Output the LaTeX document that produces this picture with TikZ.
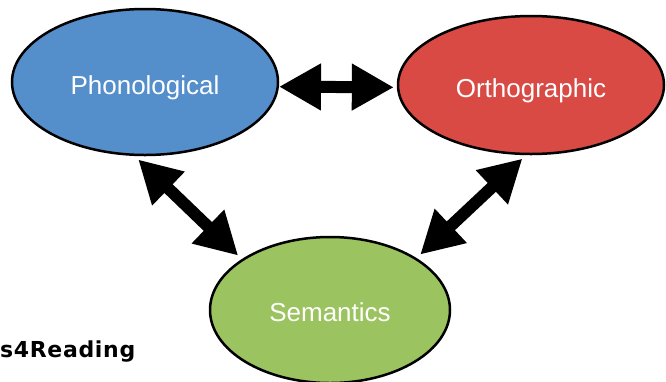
\documentclass[tikz,border=0pt]{standalone}
\usepackage{fontspec}
\setmainfont{Liberation Sans}
\newfontfamily\notefont[LetterSpace=3]{DejaVu Sans}
\usetikzlibrary{arrows.meta}
\usetikzlibrary{shapes.geometric}

\definecolor{phonblue}{RGB}{84,142,203}
\definecolor{orthred}{RGB}{217,74,69}
\definecolor{semgreen}{RGB}{155,195,95}

\begin{document}
\begin{tikzpicture}[
        x=1pt,y=-1pt,
        arrow/.style={{Triangle[length=42pt,width=44pt]}-{Triangle[length=42pt,width=44pt]},
            line width=12pt,shorten >= 5pt, shorten <= 5pt},
        bubble/.style={ellipse,draw=black,line width=2.5pt,inner sep=0pt,
            text=white,font=\fontsize{26}{30}\selectfont,
            text height=24pt,text depth=0pt},
    ]
        \useasboundingbox (0,0) rectangle (666,381);

        % ellipses
        \node (phon) at (145,82)  [bubble,fill=phonblue,
            minimum width=266pt,minimum height=146pt] {Phonological};
        \node (orth) at (531,85)  [bubble,fill=orthred,
            minimum width=266pt,minimum height=138pt] {Orthographic};
        \node (sem)  at (330,310) [bubble,fill=semgreen,
            minimum width=240pt,minimum height=146pt,text height=22pt] {Semantics};

        % links
        \draw[arrow,shorten <= 0pt,shorten >= 3pt] (phon.358) -- (orth.181);
        \draw[arrow] (phon.262) -- (sem.150);
        \draw[arrow] (orth.266) -- (sem.31);

        % note
        \node[anchor=base west,inner sep=0pt] (note) at (0,357)
            {\notefont\bfseries\fontsize{22}{26}\selectfont s4Reading};
    \end{tikzpicture}
\end{document}
